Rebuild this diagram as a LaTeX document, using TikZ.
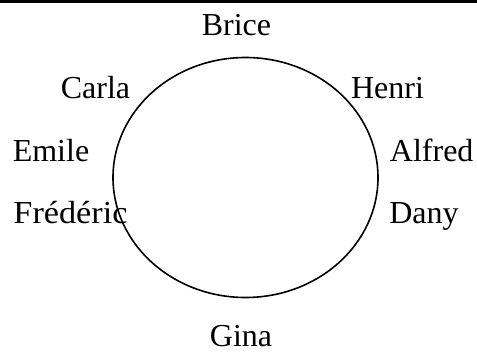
\documentclass[tikz,border=0pt]{standalone}
\usepackage{fontspec}
\setmainfont{Liberation Serif}
\usetikzlibrary{shapes.geometric}
\begin{document}
\begin{tikzpicture}[x=1pt,y=-1pt,
  lbl/.style={anchor=base,inner sep=0pt,font=\fontsize{32}{38}\selectfont}]
\useasboundingbox (0,0) rectangle (477,354);
\draw[line width=2.5pt] (0,1.5) -- (477,1.5);
\node[draw,line width=1.6pt,ellipse,minimum width=265pt,minimum height=240pt,inner sep=0pt] (ring) at (245.5,177.5) {};
\node[lbl] (brice) at (236.5,35) {Brice};
\node[lbl] (carla) at (95.5,98.3) {Carla};
\node[lbl] (henri) at (387.5,98.3) {Henri};
\node[lbl] (emile) at (51,161.7) {Emile};
\node[lbl] (alfred) at (431.7,161.7) {Alfred};
\node[lbl] (frederic) at (70.5,223) {\scalebox{1.07}[1]{Frédéric}};
\node[lbl] (dany) at (424,223) {Dany};
\node[lbl] (gina) at (241,346.5) {Gina};
\end{tikzpicture}
\end{document}
